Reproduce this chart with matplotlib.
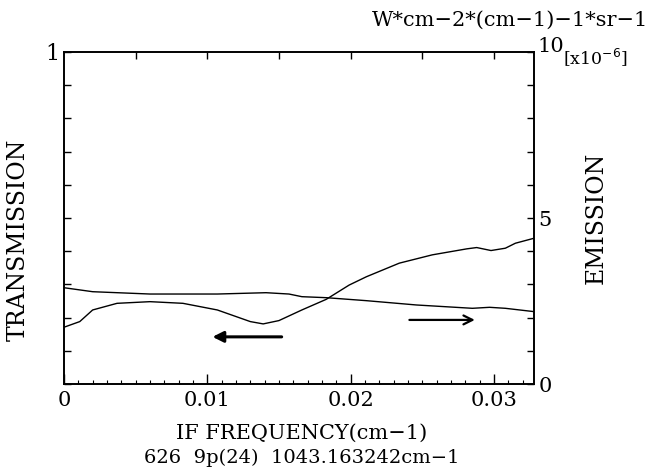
"""IF frequency scan: transmission and emission for 626 9p(24)."""

import matplotlib

matplotlib.use("Agg")
import matplotlib.pyplot as plt
from matplotlib.ticker import MultipleLocator

# transmission curve (left axis)
trans_freq = [0.0, 0.0011, 0.0020, 0.0037, 0.0060, 0.0083, 0.0107, 0.0130, 0.0139,
              0.0150, 0.0166, 0.0183, 0.0199, 0.0211, 0.0234, 0.0257, 0.0281,
              0.0288, 0.0298, 0.0308, 0.0315, 0.0328]
trans_vals = [0.171, 0.188, 0.223, 0.243, 0.248, 0.243, 0.223, 0.188, 0.181,
              0.191, 0.223, 0.255, 0.298, 0.323, 0.364, 0.389, 0.407,
              0.411, 0.402, 0.409, 0.424, 0.439]

# emission curve (right axis, x1e-6)
emis_freq = [0.0, 0.0020, 0.0060, 0.0107, 0.0141, 0.0157, 0.0166, 0.0183, 0.0211,
             0.0246, 0.0285, 0.0297, 0.0308, 0.0328]
emis_vals = [2.90, 2.78, 2.71, 2.71, 2.75, 2.71, 2.63, 2.60, 2.51,
             2.38, 2.28, 2.31, 2.28, 2.18]

x_ticks = [0.0, 0.01, 0.02, 0.03]
x_labels = ["0", "0.01", "0.02", "0.03"]

plt.rcParams["font.family"] = ["DejaVu Serif"]
FS = 14

fig = plt.figure(figsize=(6.53, 4.76), dpi=100)
ax = fig.add_axes([64 / 653, 1 - 384 / 476, 470 / 653, 332 / 476])
ax2 = ax.twinx()

ax.plot(trans_freq, trans_vals, color="black", lw=1.0)
ax2.plot(emis_freq, emis_vals, color="black", lw=1.0)

ax.set_xlim(0, 0.0328)
ax.set_ylim(0, 1)
ax2.set_ylim(0, 10)

for a in (ax, ax2):
    for sp in a.spines.values():
        sp.set_linewidth(1.2)

# x axis: bottom majors + minors, top ticks every 0.005
ax.set_xticks(x_ticks)
ax.set_xticklabels(x_labels, fontsize=FS + 1)
ax.xaxis.set_minor_locator(MultipleLocator(0.001))
ax.tick_params(axis="x", which="major", direction="in", length=7, width=1, pad=5, top=False)
ax.tick_params(axis="x", which="minor", direction="in", length=3, width=0.8, top=False)
top = ax.secondary_xaxis("top")
top.set_xticks([0.005 * i for i in range(1, 7)])
top.tick_params(direction="in", length=5, width=1, labeltop=False)
top.spines["top"].set_visible(False)

# left axis
ax.yaxis.set_major_locator(MultipleLocator(0.1))
ax.set_yticklabels([])
ax.tick_params(axis="y", direction="in", length=5, width=1)

# right axis
ax2.set_yticks(range(0, 11))
ax2.set_yticklabels(["0", "", "", "", "", "5", "", "", "", "", ""], fontsize=FS + 1)
ax2.tick_params(axis="y", direction="in", length=5, width=1, pad=3)

fig.text(52 / 653, 1 - 54 / 476, "1", fontsize=FS + 2, ha="center", va="center")
fig.text(537 / 653, 1 - 46 / 476, "10", fontsize=FS + 1, ha="left", va="center")
fig.text(563 / 653, 1 - 57 / 476, "[x10$^{-6}$]", fontsize=12.5, ha="left", va="center")
fig.text(648 / 653, 1 - 20 / 476, "W*cm\u22122*(cm\u22121)\u22121*sr\u22121", fontsize=FS + 1,
         ha="right", va="center")

fig.text(18 / 653, 1 - 240 / 476, "TRANSMISSION", fontsize=17, rotation=90,
         ha="center", va="center")
fig.text(596 / 653, 1 - 218 / 476, "EMISSION", fontsize=17, rotation=90,
         ha="center", va="center")
fig.text(302 / 653, 1 - 433 / 476, "IF FREQUENCY(cm\u22121)", fontsize=FS + 1,
         ha="center", va="center")
fig.text(302 / 653, 1 - 458 / 476, "626  9p(24)  1043.163242cm\u22121", fontsize=FS,
         ha="center", va="center")

# direction arrows
ax.annotate("", xy=(0.31, 0.142), xytext=(0.469, 0.142), xycoords="axes fraction",
            arrowprops=dict(arrowstyle="-|>", color="black", lw=2.2, mutation_scale=16))
ax.annotate("", xy=(0.880, 0.193), xytext=(0.729, 0.193), xycoords="axes fraction",
            arrowprops=dict(arrowstyle="->", color="black", lw=1.6, mutation_scale=16))

fig.savefig("out.png", dpi=100)
